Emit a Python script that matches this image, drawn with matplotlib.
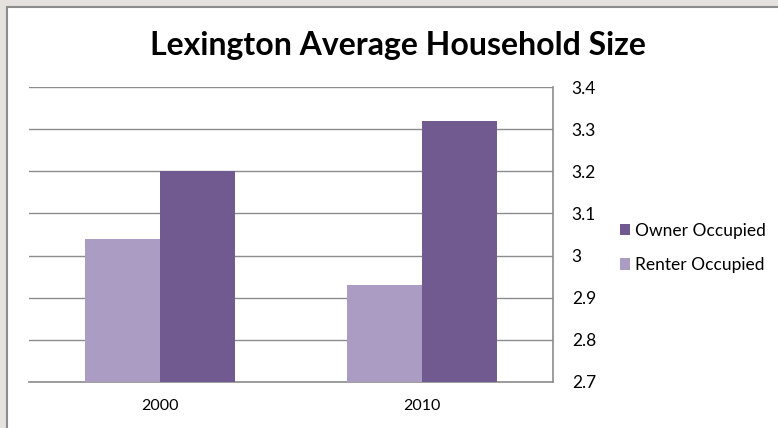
import matplotlib
matplotlib.use("Agg")
import matplotlib.pyplot as plt
from matplotlib.patches import Rectangle, Patch
import numpy as np

categories = ["2000", "2010"]
owner = [3.20, 3.32]
renter = [3.04, 2.93]
yticks = [2.7, 2.8, 2.9, 3.0, 3.1, 3.2, 3.3, 3.4]
ytick_labels = ["2.7", "2.8", "2.9", "3", "3.1", "3.2", "3.3", "3.4"]
title = "Lexington Average Household Size"

owner_color = "#715a8f"
renter_color = "#aa9cc2"

plt.rcParams['font.family'] = ['Lato', 'DejaVu Sans']

W, H = 778, 428
fig = plt.figure(figsize=(W / 100, H / 100), dpi=100)
fig.patch.set_facecolor("#e4e1df")
# white chart panel with gray border
panel = Rectangle((7 / W, -0.01), 1, 1.01 - 7 / H, transform=fig.transFigure,
                  facecolor="white", edgecolor="#8c8c8c", linewidth=1.5, zorder=-5)
fig.add_artist(panel)

ax = fig.add_axes([29 / W, 1 - 382 / H, (553 - 29) / W, (382 - 87) / H])
ax.set_zorder(2)
ax.set_facecolor("none")
x = np.arange(len(categories))
bw = 75 / 262
ax.bar(x - bw / 2, renter, width=bw, color=renter_color, zorder=3)
ax.bar(x + bw / 2, owner, width=bw, color=owner_color, zorder=3)

ax.set_xlim(-0.5, len(categories) - 0.5)
ax.set_ylim(2.7, 3.4)
ax.set_yticks(yticks)
ax.set_yticklabels(ytick_labels)
ax.yaxis.tick_right()
ax.set_xticks(x)
ax.set_xticklabels(categories)
ax.tick_params(axis='both', length=0, colors="black")
ax.tick_params(axis='y', pad=13.5, labelsize=12.5)
ax.tick_params(axis='x', pad=12, labelsize=11.5)
for lab in ax.get_yticklabels():
    lab.set_horizontalalignment('left')
ax.grid(axis='y', color="#8c8c8c", linewidth=1, zorder=1)
for s in ["top", "left"]:
    ax.spines[s].set_visible(False)
ax.spines["right"].set_color("#8c8c8c")
ax.spines["bottom"].set_color("#8c8c8c")
ax.spines["right"].set_linewidth(1.2)
ax.spines["bottom"].set_linewidth(1.2)

fig.text(398 / W, 1 - 46 / H, title, ha="center", va="center",
         fontsize=23, fontweight="bold", color="black")

handles = [Patch(facecolor=owner_color, edgecolor="none"),
           Patch(facecolor=renter_color, edgecolor="none")]
fig.legend(handles, ["Owner Occupied", "Renter Occupied"],
           loc="center left", bbox_to_anchor=(604 / W, 1 - 248 / H),
           frameon=False, fontsize=12.5, handlelength=0.6, handleheight=0.6,
           handletextpad=0.3, labelspacing=1.05)

fig.savefig("out.png", dpi=100, facecolor=fig.get_facecolor())
